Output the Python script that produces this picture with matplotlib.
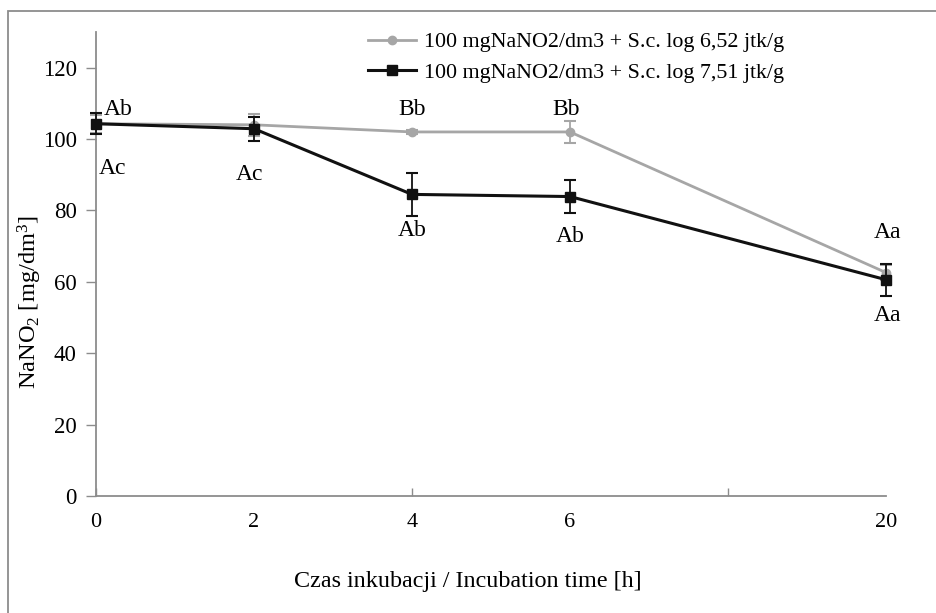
import matplotlib
matplotlib.use("Agg")
import matplotlib.pyplot as plt
from matplotlib.patches import Rectangle
from matplotlib.lines import Line2D

# Data
x_labels = ["0", "2", "4", "6", "20"]
x_pos = [0, 2, 4, 6, 10]
series1_name = "100 mgNaNO2/dm3 + S.c. log 6,52 jtk/g"
series2_name = "100 mgNaNO2/dm3 + S.c. log 7,51 jtk/g"
series1 = [104.3, 104.0, 102.0, 102.0, 62.6]
series1_err = [2.5, 3.0, 0.6, 3.0, 2.0]
series2 = [104.3, 102.9, 84.5, 83.9, 60.6]
series2_err = [3.0, 3.3, 6.0, 4.6, 4.5]
labels_above = ["Ab", "", "Bb", "Bb", "Aa"]
labels_below = ["Ac", "Ac", "Ab", "Ab", "Aa"]
y_ticks = [0, 20, 40, 60, 80, 100, 120]

plt.rcParams['font.family'] = ['Liberation Serif', 'DejaVu Serif']
plt.rcParams['mathtext.fontset'] = 'custom'
plt.rcParams['mathtext.rm'] = 'Liberation Serif'
plt.rcParams['mathtext.it'] = 'Liberation Serif:italic'

W, H = 937, 613
fig = plt.figure(figsize=(W / 100, H / 100), dpi=100)
ax = fig.add_axes([96 / W, 1 - 496 / H, (886 - 96) / W, (496 - 32) / H])

gray = '#a6a6a6'
black = '#111111'
axis_gray = '#8c8c8c'

ax.errorbar(x_pos, series1, yerr=series1_err, color=gray, lw=2, marker='o', ms=6,
            capsize=4.5, capthick=1.5, elinewidth=1.3, zorder=3, clip_on=False)
ax.errorbar(x_pos, series2, yerr=series2_err, color=black, lw=2.2, marker='s', ms=7,
            capsize=4.5, capthick=1.5, elinewidth=1.3, zorder=4, clip_on=False)

ax.set_xlim(0, 10)
ax.set_ylim(0, 130)
ax.set_yticks(y_ticks)
ax.set_yticklabels([str(v) for v in y_ticks], fontsize=16.5)
ax.tick_params(axis='y', direction='out', length=7, width=1, color=axis_gray, pad=7)
ax.set_xticks([0, 4, 8])
ax.set_xticklabels(["", "", ""])
ax.tick_params(axis='x', direction='in', length=6, width=1, color=axis_gray)

for s in ['top', 'right']:
    ax.spines[s].set_visible(False)
for s in ['left', 'bottom']:
    ax.spines[s].set_color(axis_gray)
    ax.spines[s].set_linewidth(1.3)

# x category labels at data positions
for xp, lab in zip(x_pos, x_labels):
    ax.annotate(lab, (xp, 0), xytext=(0, -19), textcoords='offset points',
                ha='center', va='center', fontsize=16)

# significance letters
above_off = [(16, 10.5), (0, 0), (0, 16), (-3, 16), (1, 28.5)]
below_off = [(12, -32), (-3, -33), (0, -26), (0, -29), (1, -26)]
for i, xp in enumerate(x_pos):
    if labels_above[i]:
        ax.annotate(labels_above[i], (xp, series1[i]), xytext=above_off[i], textcoords='offset points',
                    ha='center', va='center', fontsize=17)
    ax.annotate(labels_below[i], (xp, series2[i]), xytext=below_off[i], textcoords='offset points',
                ha='center', va='center', fontsize=17)

handles = [Line2D([], [], color=gray, lw=2, marker='o', ms=6),
           Line2D([], [], color=black, lw=2.2, marker='s', ms=7)]
ax.legend(handles, [series1_name, series2_name], loc='upper left',
          bbox_to_anchor=(368 / W, 1 - 32 / H), bbox_transform=fig.transFigure,
          frameon=False, fontsize=15.8, handlelength=2.2, handletextpad=0.35, labelspacing=0.45,
          borderpad=0, borderaxespad=0)

fig.text(468 / W, 1 - 582 / H, "Czas inkubacji / Incubation time [h]", ha='center', va='center',
         fontsize=17.4)
fig.text(30 / W, 1 - 302 / H, "NaNO$_2$ [mg/dm$^3$]", ha='center', va='center', rotation=90,
         fontsize=17.6)

fig.patches.append(Rectangle((8 / W, -0.05), 1.0, 1 - 11 / H + 0.05, transform=fig.transFigure,
                             fill=False, edgecolor='#8c8c8c', lw=1.3))

fig.savefig("out.png", dpi=100)
